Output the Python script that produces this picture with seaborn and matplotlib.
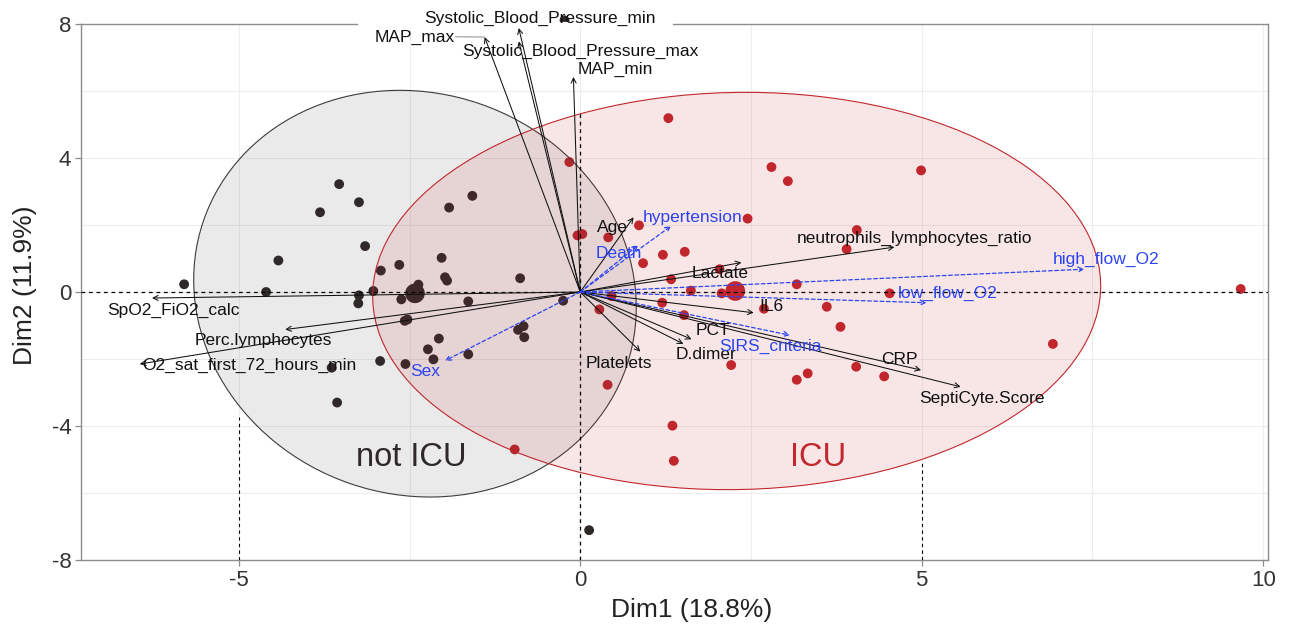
import numpy as np
import pandas as pd
import matplotlib
matplotlib.use("Agg")
import matplotlib.pyplot as plt
from matplotlib.patches import Ellipse
import seaborn as sns

# ---------------- data ----------------
noticu_x = [-5.80, -4.60, -4.42, -3.53, -3.81, -3.24, -3.15, -3.24, -3.25, -3.03, -2.92, -2.65,
            -2.62, -2.37, -2.53, -2.57, -2.03, -1.95, -1.98, -1.64, -0.88, -0.25, -0.91, -0.83,
            -0.82, -2.07, -2.23, -2.15, -1.64, -2.93, -2.56, -3.64, -3.56, 0.13, -1.58, -1.92, -0.23]
noticu_y = [0.23, 0.00, 0.94, 3.22, 2.38, 2.68, 1.37, -0.10, -0.34, 0.03, 0.64, 0.81,
            -0.22, 0.22, -0.82, -0.86, 1.02, 0.34, 0.44, -0.28, 0.41, -0.26, -1.13, -1.02,
            -1.35, -1.39, -1.71, -2.01, -1.86, -2.06, -2.15, -2.26, -3.30, -7.11, 2.87, 2.52, 8.11]
icu_x = [-0.96, -0.16, -0.04, 0.03, 0.41, 0.86, 1.21, 1.53, 0.92, 2.04, 1.33, 3.17, 1.62,
         2.07, 0.46, 1.20, 0.28, 1.52, 2.69, 3.61, 3.81, 2.21, 4.04, 3.33, 3.17, 4.45,
         3.90, 4.05, 1.29, 2.80, 3.04, 4.99, 2.45, 4.53, 9.67, 6.92, 0.40, 1.35, 1.37]
icu_y = [-4.70, 3.88, 1.69, 1.73, 1.63, 1.99, 1.11, 1.20, 0.86, 0.68, 0.38, 0.23, 0.04,
         -0.04, -0.12, -0.32, -0.52, -0.69, -0.50, -0.44, -1.04, -2.18, -2.23, -2.43, -2.62, -2.52,
         1.28, 1.85, 5.19, 3.73, 3.31, 3.63, 2.19, -0.04, 0.09, -1.55, -2.77, -3.99, -5.04]

groups = ["not ICU", "ICU"]
centroid_x = [-2.42, 2.27]
centroid_y = [-0.04, 0.03]
group_colors = {"not ICU": "#2E2828", "ICU": "#C1272D"}
group_label_x = [-2.47, 3.48]
group_label_y = [-4.95, -4.95]

# confidence ellipses: centre, sd along x / y, covariance
ell_cx = [-2.42, 2.29]
ell_cy = [-0.05, 0.03]
ell_sx = [3.24, 5.33]
ell_sy = [6.07, 5.93]
ell_sxy = [-1.34, 0.8]
ell_face = ["#3A3A3A", "#C8202A"]
ell_alpha = [0.10, 0.11]
ell_edge = ["#3C3C3C", "#C1272D"]

# active variables (black arrows)
var_names = ["Systolic_Blood_Pressure_min", "MAP_max", "Systolic_Blood_Pressure_max", "MAP_min",
             "Age", "neutrophils_lymphocytes_ratio", "Lactate", "IL6", "PCT", "D.dimer",
             "Platelets", "CRP", "SeptiCyte.Score", "SpO2_FiO2_calc", "Perc.lymphocytes",
             "O2_sat_first_72_hours_min"]
var_x = [-0.90, -1.40, -0.90, -0.10, 0.78, 4.60, 2.36, 2.54, 1.63, 1.51, 0.88, 4.99, 5.57,
         -6.27, -4.32, -6.45]
var_y = [7.88, 7.61, 7.48, 6.42, 2.23, 1.34, 0.88, -0.62, -1.41, -1.55, -1.78, -2.33, -2.83,
         -0.18, -1.12, -2.15]
var_lab_x = [-0.59, -1.83, 0.00, 0.51, 0.47, 4.90, 2.05, 2.80, 1.94, 1.84, 0.56, 4.67, 5.88,
             -5.95, -4.64, -4.85]
var_lab_y = [8.16, 7.60, 7.17, 6.64, 1.92, 1.60, 0.56, -0.44, -1.14, -1.88, -2.13, -2.01, -3.18,
             -0.54, -1.46, -2.18]

# supplementary variables (blue dashed arrows)
sup_names = ["hypertension", "Death", "high_flow_O2", "low_flow_O2", "SIRS_criteria", "Sex"]
sup_x = [1.33, 0.85, 7.38, 5.07, 3.07, -1.98]
sup_y = [1.97, 1.40, 0.68, -0.32, -1.29, -2.05]
sup_lab_x = [1.65, 0.57, 7.70, 5.38, 2.78, -2.27]
sup_lab_y = [2.23, 1.14, 0.98, -0.04, -1.61, -2.38]

x_title = "Dim1 (18.8%)"
y_title = "Dim2 (11.9%)"
x_ticks = [-5, 0, 5, 10]
y_ticks = [-8, -4, 0, 4, 8]

# ---------------- style ----------------
sns.set_theme(style="white")
plt.rcParams["font.family"] = ["Liberation Sans", "DejaVu Sans"]
plt.rcParams["axes.unicode_minus"] = False

fig = plt.figure(figsize=(12.9, 6.27), dpi=100)
ax = fig.add_axes([81 / 1290, 1 - 560 / 627, (1268 - 81) / 1290, (560 - 24) / 627])

df = pd.DataFrame({
    "Dim1": noticu_x + icu_x,
    "Dim2": noticu_y + icu_y,
    "group": ["not ICU"] * len(noticu_x) + ["ICU"] * len(icu_x),
})
cent = pd.DataFrame({"Dim1": centroid_x, "Dim2": centroid_y, "group": groups})

sns.scatterplot(data=df, x="Dim1", y="Dim2", hue="group", palette=group_colors,
                s=50, linewidth=0, legend=False, ax=ax, zorder=1)
sns.scatterplot(data=cent, x="Dim1", y="Dim2", hue="group", palette=group_colors,
                s=200, linewidth=0, legend=False, ax=ax, zorder=1)
for c in ax.collections:
    c.set_clip_on(False)

# ellipses
for i in range(2):
    S = np.array([[ell_sx[i] ** 2, ell_sxy[i]], [ell_sxy[i], ell_sy[i] ** 2]])
    vals, vecs = np.linalg.eigh(S)
    ang = np.degrees(np.arctan2(vecs[1, 1], vecs[0, 1]))
    e = Ellipse((ell_cx[i], ell_cy[i]), 2 * np.sqrt(vals[1]), 2 * np.sqrt(vals[0]), angle=ang,
                facecolor=matplotlib.colors.to_rgba(ell_face[i], ell_alpha[i]),
                edgecolor=ell_edge[i], lw=0.8, zorder=2)
    ax.add_patch(e)

# reference dashed lines
ax.axhline(0, color="black", lw=0.9, ls=(0, (3, 3)), zorder=3)
ax.plot([0, 0], [-8, 5.39], color="black", lw=0.9, ls=(0, (3, 3)), zorder=3)
ax.plot([-5, -5], [-8, -3.72], color="black", lw=0.8, ls=(0, (3, 3)), zorder=3)
ax.plot([5, 5], [-8, -5.02], color="black", lw=0.8, ls=(0, (3, 3)), zorder=3)

# arrows
for x, y in zip(var_x, var_y):
    ax.annotate("", xy=(x, y), xytext=(0, 0),
                arrowprops=dict(arrowstyle="->", lw=0.75, color="#111111",
                                shrinkA=0, shrinkB=0, mutation_scale=9), zorder=4)
for x, y in zip(sup_x, sup_y):
    ax.annotate("", xy=(x, y), xytext=(0, 0),
                arrowprops=dict(arrowstyle="->", lw=0.9, color="#2B44F0", ls=(0, (3, 2)),
                                shrinkA=0, shrinkB=0, mutation_scale=9), zorder=4)

# label of MAP_max with connector
ax.plot([var_lab_x[1], var_x[1]], [var_lab_y[1] + 0.02, var_y[1]], color="#999999", lw=0.8, zorder=4)

for i, name in enumerate(var_names):
    ha = "right" if name == "MAP_max" else "center"
    ax.text(var_lab_x[i], var_lab_y[i], name, ha=ha, va="center", fontsize=12.5,
            color="#111111", zorder=6, clip_on=False)
for i, name in enumerate(sup_names):
    ax.text(sup_lab_x[i], sup_lab_y[i], name, ha="center", va="center", fontsize=12.5,
            color="#2B44F0", zorder=6)

for i, g in enumerate(groups):
    ax.text(group_label_x[i], group_label_y[i], g, ha="center", va="center", fontsize=23.5,
            color=("#2E2828" if g == "not ICU" else "#C1272D"), zorder=6)

# axes
ax.set_xlim(-7.31, 10.07)
ax.set_ylim(-8, 8)
ax.set_xticks(x_ticks)
ax.set_yticks(y_ticks)
ax.set_xticks([-2.5, 2.5, 7.5], minor=True)
ax.set_yticks([-6, -2, 2, 6], minor=True)
ax.grid(which="both", color="#EDEDED", lw=0.8, zorder=0)
ax.set_axisbelow(True)
for s in ax.spines.values():
    s.set_color("#8C8C8C")
    s.set_linewidth(1.0)
ax.tick_params(which="major", length=4, width=0.9, color="#8C8C8C", labelsize=16,
               labelcolor="#333333", pad=3, left=True, bottom=True)
ax.tick_params(which="minor", length=0)
ax.set_xlabel(x_title, fontsize=19, color="#222222")
ax.set_ylabel(y_title, fontsize=19, color="#222222")
ax.xaxis.set_label_coords((692 - 81) / 1187, -0.071)
ax.yaxis.set_label_coords((37 - 81) / 1187, 0.513)

# white gap in the top frame behind the top label
ax.plot([-3.23, 1.33], [8, 8], color="white", lw=3, clip_on=False, zorder=3)

fig.savefig("out.png", dpi=100)
